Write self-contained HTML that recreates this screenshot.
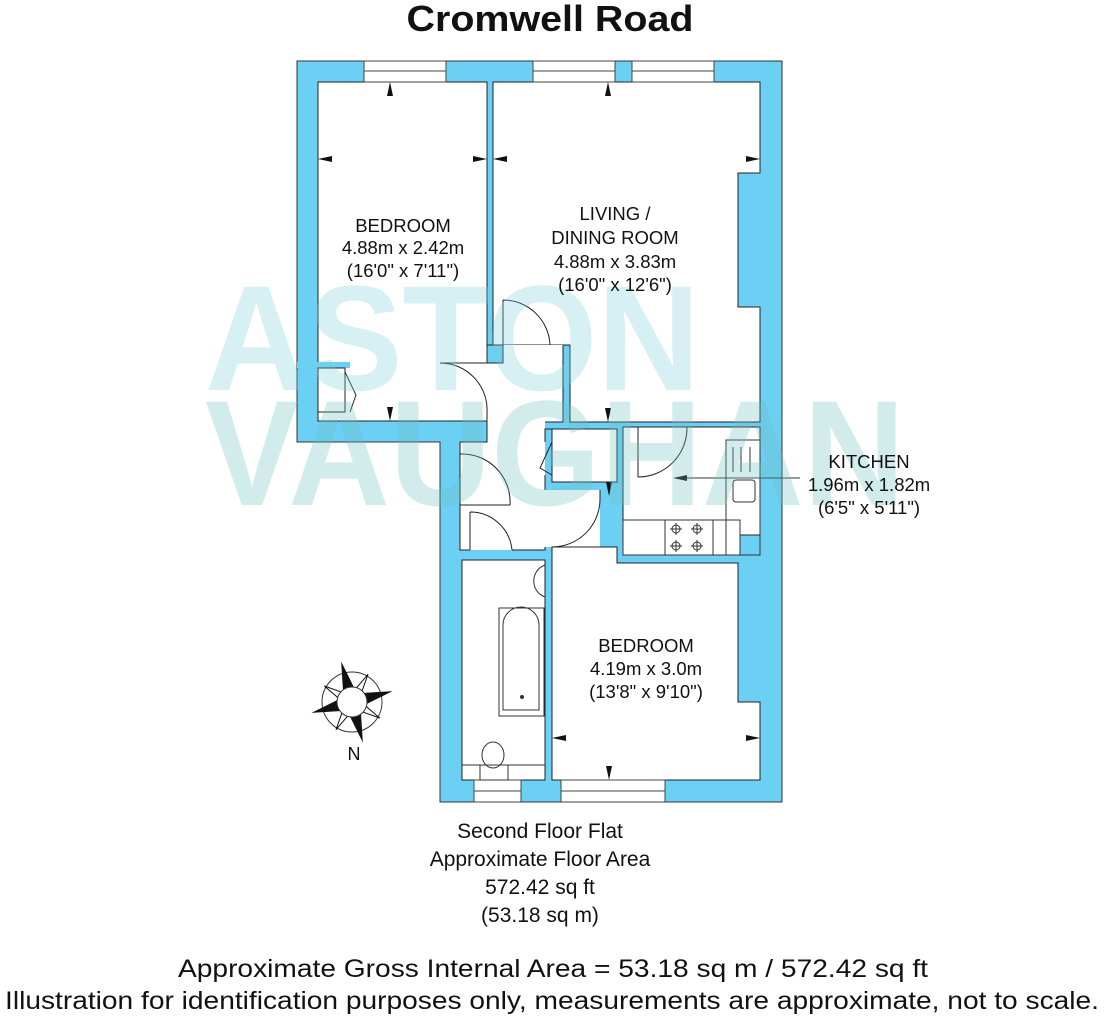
<!DOCTYPE html>
<html><head><meta charset="utf-8"><style>
html,body{margin:0;padding:0;background:#fff;}
svg{display:block;}
text{font-family:"Liberation Sans",Arial,sans-serif;fill:#111;}
</style></head><body>
<svg width="1104" height="1024" viewBox="0 0 1104 1024" xmlns="http://www.w3.org/2000/svg">
<rect width="1104" height="1024" fill="#fff"/>
<text x="550" y="31" text-anchor="middle" font-size="36" font-weight="bold" textLength="287" lengthAdjust="spacingAndGlyphs">Cromwell Road</text>

<g fill="#6ccff4" stroke="#333" stroke-width="1">
<path d="M297,61 H782 V802 H440 V442 H297 Z"/>
</g>
<g fill="#fff" stroke="#222" stroke-width="1">
<rect x="318" y="82" width="169" height="339"/>
<path d="M493,82 H760 V173 H738 V307 H760 V422 H570 V345 H493 Z"/>
<path d="M503,345 H563 V422 H545 V442 H545 V490 H600 V547 H545 V550 H460 V442 H487 V413 H494 V363 H503 Z" stroke="none"/>
<rect x="486" y="363" width="8" height="50" stroke="none"/>
<rect x="552" y="429" width="65" height="53"/>
<path d="M623,427 H760 V535 H740 V555 H623 Z"/>
<rect x="462" y="560" width="83" height="220"/>
<path d="M552,547 H617 V563 H738 V702 H760 V780 H552 Z"/>
</g>
<g stroke="#222" stroke-width="1" fill="none">
<path d="M487,421 V413"/><path d="M460,442 V550 H470"/><path d="M512,550 H545 V547"/>
<path d="M545,442 V429 H552"/><path d="M545,475 V490"/>
<path d="M563,345 V422 H545"/>
<path d="M487,345 H503 V363 H487"/><path d="M460,442 H487 V421"/>
</g>
<rect x="297" y="362" width="53" height="6" fill="#6ccff4"/>
<rect x="318" y="368" width="27" height="44" fill="#fff" stroke="#222"/>
<path d="M345,372 L356,395 L350,412" fill="none" stroke="#222"/>
<g fill="#fff" stroke="#444" stroke-width="1">
<rect x="364" y="61" width="82" height="21"/><line x1="364" y1="71" x2="446" y2="71"/>
<rect x="533" y="61" width="82" height="21"/><line x1="533" y1="71" x2="615" y2="71"/>
<rect x="632" y="61" width="82" height="21"/><line x1="632" y1="71" x2="714" y2="71"/>
<rect x="474" y="780" width="47" height="22"/><line x1="474" y1="791" x2="521" y2="791"/>
<rect x="561" y="780" width="104" height="22"/><line x1="561" y1="791" x2="665" y2="791"/>
</g>
<g fill="none" stroke="#222" stroke-width="1">
<path d="M503,300 V345 M503,300 A47,47 0 0 1 550,345"/>
<path d="M487,363 H440 A47,47 0 0 1 487,413"/>
<path d="M460,454 A48,48 0 0 1 510,505 H460"/>
<path d="M470,512 V550 M470,512 A42,42 0 0 1 512,550"/>
<path d="M552,547 A48,48 0 0 0 600,500 V490"/>
<path d="M552,442 L540,468 L552,475"/>
<path d="M638,427 V477 H638 A49,49 0 0 0 687,427"/>
</g>
<g fill="none" stroke="#333" stroke-width="1">
<rect x="726" y="440" width="34" height="115"/>
<line x1="733" y1="447" x2="733" y2="472"/><line x1="741" y1="447" x2="741" y2="472"/><line x1="750" y1="447" x2="750" y2="472"/>
<rect x="733" y="480" width="22" height="22" rx="3"/>
<rect x="623" y="520" width="117" height="35"/>
<rect x="665" y="520" width="48" height="35"/>
<circle cx="676" cy="529" r="4"/><circle cx="697" cy="529" r="4"/><circle cx="676" cy="546" r="4"/><circle cx="697" cy="546" r="4"/>
<line x1="670" y1="529" x2="682" y2="529"/><line x1="676" y1="523" x2="676" y2="535"/>
<line x1="691" y1="529" x2="703" y2="529"/><line x1="697" y1="523" x2="697" y2="535"/>
<line x1="670" y1="546" x2="682" y2="546"/><line x1="676" y1="540" x2="676" y2="552"/>
<line x1="691" y1="546" x2="703" y2="546"/><line x1="697" y1="540" x2="697" y2="552"/>
<line x1="680" y1="478" x2="800" y2="478"/>
<path d="M545,565 A17,17 0 0 0 545,597"/>
<rect x="499" y="608" width="45" height="108"/>
<path d="M503,710 V625 A18,18 0 0 1 539,625 V710 Z"/>
<rect x="480" y="765" width="28" height="15"/>
<ellipse cx="493" cy="755" rx="11" ry="13"/>
<line x1="462" y1="765" x2="545" y2="765"/>
</g>
<circle cx="522" cy="697" r="2" fill="#333"/>
<g fill="#111">
<path d="M390,82 l-3,14 h6 z"/><path d="M390,421 l-3,-14 h6 z"/>
<path d="M318,159 l14,-3 v6 z"/><path d="M487,159 l-14,-3 v6 z"/>
<path d="M608,82 l-3,14 h6 z"/><path d="M608,422 l-3,-14 h6 z"/>
<path d="M609,482 l-3,14 h6 z" transform="rotate(180 609 489)"/>
<path d="M493,159 l14,-3 v6 z"/><path d="M760,159 l-14,-3 v6 z"/>
<path d="M673,478 l14,-3 v6 z"/>
<path d="M609,780 l-3,-14 h6 z"/>
<path d="M552,738 l14,-3 v6 z"/><path d="M760,738 l-14,-3 v6 z"/>
</g>
<g opacity="0.3" font-weight="bold">
<text x="205" y="390" font-size="150" textLength="495" lengthAdjust="spacingAndGlyphs" style="fill:#7ccfdc">ASTON</text>
<text x="205" y="505" font-size="150" textLength="700" lengthAdjust="spacingAndGlyphs" style="fill:#6cbfc0">VAUGHAN</text>
</g>
<g font-size="18.5" text-anchor="middle">
<text x="403" y="232">BEDROOM</text><text x="403" y="254">4.88m x 2.42m</text><text x="403" y="277">(16'0" x 7'11")</text>
<text x="615" y="220">LIVING /</text><text x="615" y="244">DINING ROOM</text><text x="615" y="268">4.88m x 3.83m</text><text x="615" y="291">(16'0" x 12'6")</text>
<text x="869" y="468">KITCHEN</text><text x="869" y="491">1.96m x 1.82m</text><text x="869" y="514">(6'5" x 5'11")</text>
<text x="646" y="652">BEDROOM</text><text x="646" y="675">4.19m x 3.0m</text><text x="646" y="698">(13'8" x 9'10")</text>
</g>
<g transform="translate(352,702)">
<circle r="30" fill="none" stroke="#333"/>
<path d="M0,-42 L7,-7 L42,0 L7,7 L0,42 L-7,7 L-42,0 L-7,-7 Z" fill="#111" transform="rotate(-15)"/>
<path d="M0,-32 L5,-5 L32,0 L5,5 L0,32 L-5,5 L-32,0 L-5,-5 Z" fill="#fff" stroke="#111" transform="rotate(30)"/>
<circle r="15" fill="#fff" stroke="#333"/>
</g>
<text x="354" y="760" font-size="18" text-anchor="middle">N</text>
<g font-size="21" text-anchor="middle">
<text x="540" y="838">Second Floor Flat</text>
<text x="540" y="866">Approximate Floor Area</text>
<text x="540" y="894">572.42 sq ft</text>
<text x="540" y="922">(53.18 sq m)</text>
</g>
<text x="553" y="977" font-size="25" text-anchor="middle" textLength="750" lengthAdjust="spacingAndGlyphs">Approximate Gross Internal Area = 53.18 sq m / 572.42 sq ft</text>
<text x="552" y="1009" font-size="25" text-anchor="middle" textLength="1094" lengthAdjust="spacingAndGlyphs">Illustration for identification purposes only, measurements are approximate, not to scale.</text>
</svg>
</body></html>
